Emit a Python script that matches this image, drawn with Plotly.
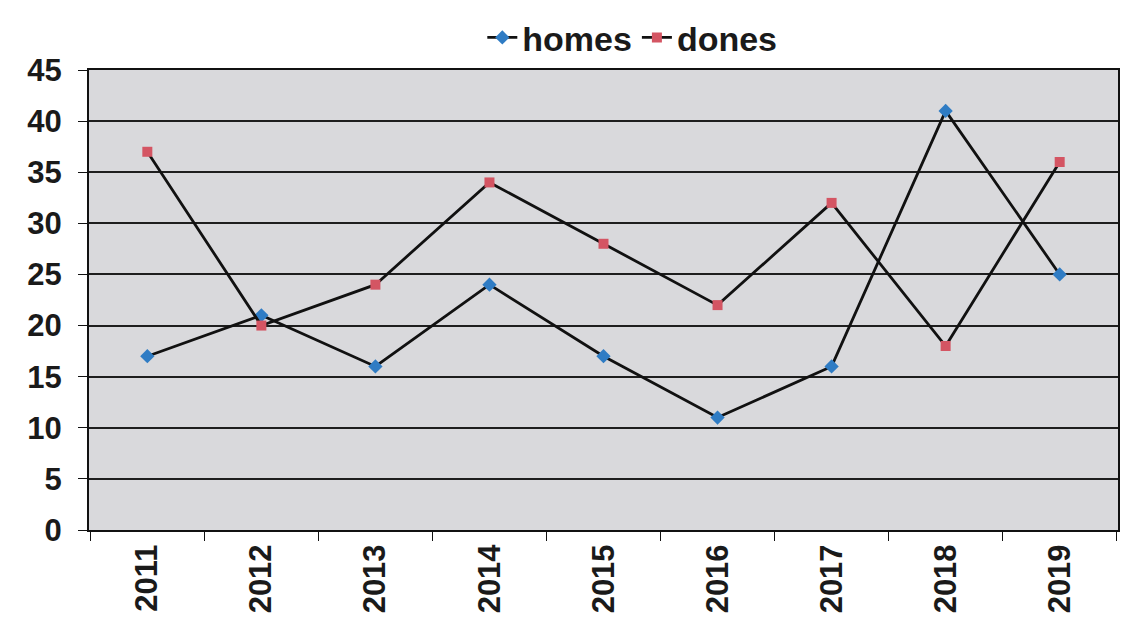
import plotly.graph_objects as go

years = ["2011", "2012", "2013", "2014", "2015", "2016", "2017", "2018", "2019"]
homes = [17, 21, 16, 24, 17, 11, 16, 41, 25]
dones = [37, 20, 24, 34, 28, 22, 32, 18, 36]
y_ticks = [0, 5, 10, 15, 20, 25, 30, 35, 40, 45]

font_tick = dict(family="Liberation Sans, Arial, sans-serif", size=31, color="#1a1a1a", weight="bold")
font_legend = dict(family="Liberation Sans, Arial, sans-serif", size=34, color="#1a1a1a", weight="bold")

fig = go.Figure()
fig.add_trace(go.Scatter(
    x=years, y=homes, mode="lines+markers", name="homes",
    line=dict(color="#111111", width=2.8),
    marker=dict(symbol="diamond", size=11, color="#2f7cc4"),
))
fig.add_trace(go.Scatter(
    x=years, y=dones, mode="lines+markers", name="dones",
    line=dict(color="#111111", width=2.8),
    marker=dict(symbol="square", size=10, color="#d45563"),
))

# page body has an 8px margin, so the figure is sized to fit inside it
fig.update_layout(
    width=1128, height=634,
    margin=dict(l=81, r=18, t=62, b=112, autoexpand=False),
    paper_bgcolor="white",
    plot_bgcolor="#d9d9dc",
    showlegend=True,
    legend=dict(
        orientation="h", x=0.528, xanchor="center",
        yref="container", y=0.953, yanchor="middle",
        font=font_legend, bgcolor="rgba(0,0,0,0)",
    ),
    font=font_tick,
)
fig.update_xaxes(
    type="category",
    showline=True, linecolor="#111111", linewidth=2, mirror=True,
    ticks="outside", tickson="boundaries", ticklen=9, tickcolor="#111111",
    tickangle=-90, tickfont=font_tick,
    showgrid=False,
)
fig.update_yaxes(
    range=[0, 45], tickvals=y_ticks,
    showline=True, linecolor="#111111", linewidth=2, mirror=True,
    ticks="outside", ticklen=9, tickcolor="#111111",
    tickfont=font_tick, ticklabelstandoff=10,
    showgrid=True, gridcolor="#1e1e1e", gridwidth=1.5,
    zeroline=False,
)

fig.write_html("out.html")
